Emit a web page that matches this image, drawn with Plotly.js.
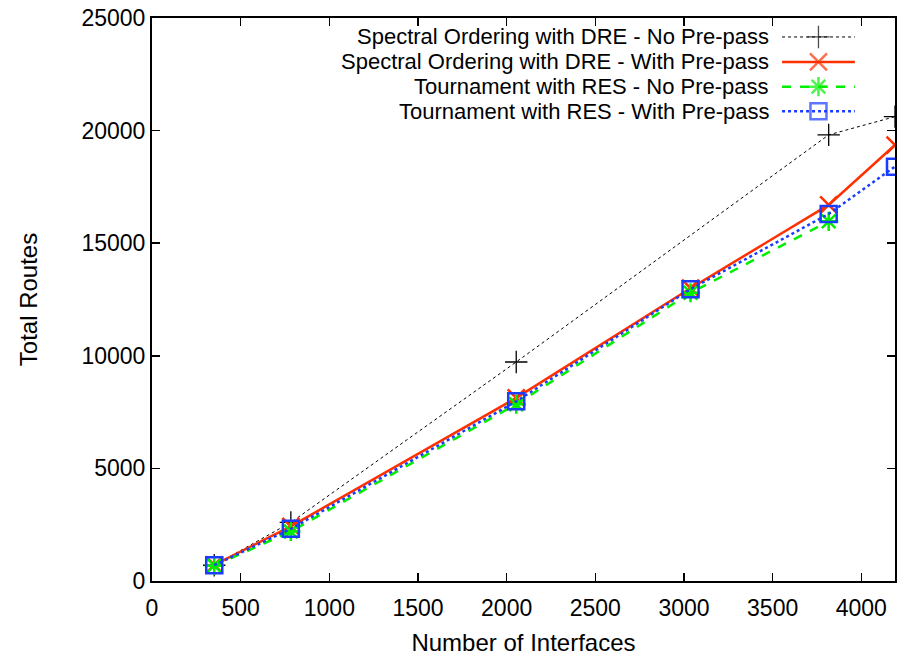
<!DOCTYPE html>
<html>
<head>
<meta charset="utf-8">
<script src="https://cdn.plot.ly/plotly-3.0.1.min.js"></script>
<style>html,body{margin:0;padding:0;background:#fff;}#chart{width:898px;height:656px;}</style>
</head>
<body>
<div id="chart"></div>
<script>
// ---- data ----
const seriesNames = [
  "Spectral Ordering with DRE - No Pre-pass",
  "Spectral Ordering with DRE - With Pre-pass",
  "Tournament with RES - No Pre-pass",
  "Tournament with RES - With Pre-pass"
];
const specNoX   = [351, 783, 2054, 3816, 4190];
const specNoY   = [700, 2600, 9725, 19810, 20620];
const specWithX = [351, 783, 2054, 3037, 3816, 4190];
const specWithY = [720, 2430, 8130, 13000, 16700, 19360];
const tourNoX   = [351, 783, 2054, 3037, 3816];
const tourNoY   = [680, 2200, 7850, 12800, 15970];
const tourWithX = [351, 783, 2054, 3037, 3816, 4190];
const tourWithY = [700, 2316, 7977, 12960, 16300, 18400];
const xTicks = [0, 500, 1000, 1500, 2000, 2500, 3000, 3500, 4000];
const yTicks = [0, 5000, 10000, 15000, 20000, 25000];
const xMax = 4190, yMax = 25000;

const FONT = "Liberation Sans, Arial, Helvetica, sans-serif";
const FS_TICK = 23;
const FS_TEXT = 24;
const FS_LEG = 22;

const styles = [
  {line:{color:"#000000", width:1, dash:"dot"}, marker:{symbol:"cross-thin-open", size:16, color:"#000000", line:{color:"#000000", width:1.3}}},
  {line:{color:"#ff3000", width:2.5, dash:"solid"}, marker:{symbol:"x-thin-open", size:17, color:"#ff3000", line:{color:"#ff3000", width:2.5}}},
  {line:{color:"#00ee00", width:2.5, dash:"dash"}, marker:{symbol:"asterisk-open", size:16, color:"#00ee00", line:{color:"#00ee00", width:2.5}}},
  {line:{color:"#1a3cff", width:2.5, dash:"dot"}, marker:{symbol:"square-open", size:16, color:"#1a3cff", line:{color:"#1a3cff", width:2.5}}}
];
const xs = [specNoX, specWithX, tourNoX, tourWithX];
const ys = [specNoY, specWithY, tourNoY, tourWithY];

const traces = [];
for (let i = 0; i < 4; i++) {
  traces.push({
    x: xs[i], y: ys[i], type: "scatter", mode: "lines+markers",
    name: seriesNames[i], line: styles[i].line, marker: styles[i].marker,
    showlegend: false, cliponaxis: true
  });
}

// custom gnuplot-style legend (text left, sample right) on an overlay axis in [0,1]
const legRowsY = [0.9663, 0.9220, 0.8780, 0.8343];
const legX0 = 0.848, legX1 = 0.946, legXm = 0.897;
const annotations = [];
for (let i = 0; i < 4; i++) {
  traces.push({
    x: [legX0, legXm, legX1], y: [legRowsY[i], legRowsY[i], legRowsY[i]],
    xaxis: "x2", yaxis: "y2", type: "scatter", mode: "lines+markers",
    line: styles[i].line,
    marker: Object.assign({}, styles[i].marker, {size: [0, styles[i].marker.size, 0]}),
    showlegend: false, hoverinfo: "skip", cliponaxis: false
  });
  annotations.push({
    xref: "paper", yref: "paper", x: 0.832, y: legRowsY[i],
    xanchor: "right", yanchor: "middle", showarrow: false, borderpad: 0,
    text: seriesNames[i], font: {family: FONT, size: FS_LEG, color: "#000"}
  });
}

const layout = {
  width: 898, height: 656,
  margin: {l: 152, r: 3, t: 18, b: 75, pad: 0},
  paper_bgcolor: "#ffffff", plot_bgcolor: "#ffffff",
  font: {family: FONT, size: FS_TEXT, color: "#000"},
  showlegend: false,
  xaxis: {
    range: [0, xMax], tickvals: xTicks, ticktext: xTicks.map(String),
    showgrid: false, zeroline: false, showline: true, linecolor: "#000", linewidth: 2,
    mirror: "ticks", ticks: "inside", ticklen: 8, tickwidth: 1.5, tickcolor: "#000",
    tickfont: {family: FONT, size: FS_TICK}, automargin: false, ticklabelstandoff: 5,
    title: {text: "Number of Interfaces", font: {family: FONT, size: FS_TEXT}, standoff: 16}
  },
  yaxis: {
    range: [0, yMax], tickvals: yTicks, ticktext: yTicks.map(String),
    showgrid: false, zeroline: false, showline: true, linecolor: "#000", linewidth: 2,
    mirror: "ticks", ticks: "inside", ticklen: 8, tickwidth: 1.5, tickcolor: "#000",
    tickfont: {family: FONT, size: FS_TICK}, automargin: false,
    title: {text: "Total Routes", font: {family: FONT, size: FS_TEXT}, standoff: 37}
  },
  xaxis2: {overlaying: "x", range: [0, 1], visible: false, fixedrange: true},
  yaxis2: {overlaying: "y", range: [0, 1], visible: false, fixedrange: true},
  annotations: annotations
};

Plotly.newPlot("chart", traces, layout, {displayModeBar: false, staticPlot: true});
</script>
</body>
</html>
